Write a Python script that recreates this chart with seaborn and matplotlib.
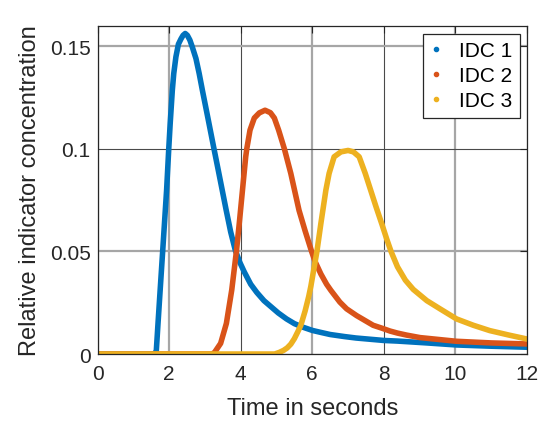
import numpy as np
import pandas as pd
import matplotlib
matplotlib.use("Agg")
import matplotlib.pyplot as plt
from matplotlib.lines import Line2D
import seaborn as sns

# Indicator dilution curves (time in s, relative concentration)
t_idc1 = [0.0, 1.58, 1.64, 1.69, 1.75, 1.82, 1.87, 1.93, 1.99, 2.03, 2.09, 2.13, 2.19, 2.26,
          2.33, 2.39, 2.45, 2.51, 2.58, 2.65, 2.75, 2.84, 2.93, 3.09, 3.24, 3.38, 3.59, 3.72,
          3.85, 3.98, 4.10, 4.28, 4.45, 4.65, 4.85, 5.05, 5.28, 5.50, 5.75, 6.00, 6.22, 6.50,
          6.90, 7.22, 8.00, 8.38, 9.20, 10.03, 11.0, 12.0]
c_idc1 = [0.0, 0.0, 0.001, 0.0149, 0.0312, 0.050, 0.0636, 0.0799, 0.100, 0.1123, 0.1286, 0.1367, 0.1448, 0.1510,
          0.1535, 0.1553, 0.1562, 0.1553, 0.1530, 0.1495, 0.1440, 0.1367, 0.1285, 0.1145, 0.1012, 0.089, 0.0705, 0.0595,
          0.0505, 0.0445, 0.040, 0.034, 0.030, 0.026, 0.023, 0.020, 0.0171, 0.0148, 0.0130, 0.0115, 0.0106, 0.0095,
          0.0085, 0.0078, 0.0066, 0.0063, 0.0054, 0.0044, 0.0038, 0.0033]

t_idc2 = [0.0, 3.20, 3.27, 3.44, 3.60, 3.75, 3.88, 3.96, 4.05, 4.14, 4.17, 4.26, 4.38, 4.52,
          4.68, 4.83, 4.94, 5.06, 5.22, 5.40, 5.63, 5.80, 5.98, 6.08, 6.24, 6.40, 6.52, 6.77,
          6.96, 7.24, 7.70, 7.96, 8.17, 8.38, 8.64, 9.01, 10.03, 11.0, 12.0]
c_idc2 = [0.0, 0.0, 0.0008, 0.0052, 0.0149, 0.0312, 0.050, 0.0636, 0.0799, 0.0961, 0.100, 0.1091, 0.1150, 0.1175,
          0.1188, 0.1176, 0.1150, 0.1091, 0.100, 0.088, 0.070, 0.060, 0.050, 0.045, 0.039, 0.034, 0.031, 0.0253,
          0.022, 0.0187, 0.0140, 0.0125, 0.0112, 0.0102, 0.0092, 0.0080, 0.0062, 0.0054, 0.0049]

t_idc3 = [0.0, 4.95, 5.08, 5.20, 5.30, 5.40, 5.50, 5.60, 5.68, 5.80, 5.90, 5.96, 6.05, 6.13,
          6.24, 6.38, 6.47, 6.61, 6.80, 7.00, 7.15, 7.31, 7.48, 7.78, 7.95, 8.08, 8.20,
          8.38, 8.60, 8.82, 9.20, 9.57, 10.03, 10.50, 10.96, 11.50, 12.0]
c_idc3 = [0.0, 0.0, 0.0008, 0.0018, 0.0030, 0.0048, 0.0075, 0.0110, 0.0140, 0.021, 0.028, 0.033, 0.042, 0.050,
          0.0636, 0.0799, 0.088, 0.0961, 0.0985, 0.0992, 0.0985, 0.0961, 0.088, 0.0718, 0.063, 0.056, 0.050,
          0.0425, 0.036, 0.0315, 0.026, 0.022, 0.0171, 0.014, 0.0114, 0.0092, 0.0073]

series_names = ["IDC 1", "IDC 2", "IDC 3"]
colors = ["#0072BD", "#D95319", "#EDB120"]

x_ticks = [0, 2, 4, 6, 8, 10, 12]
y_ticks = [0, 0.05, 0.1, 0.15]
y_tick_labels = ["0", "0.05", "0.1", "0.15"]

frames = []
for name, t, c in zip(series_names, [t_idc1, t_idc2, t_idc3], [c_idc1, c_idc2, c_idc3]):
    frames.append(pd.DataFrame({"time": t, "conc": c, "curve": name}))
df = pd.concat(frames, ignore_index=True)

sns.set_theme(style="white")
plt.rcParams["font.family"] = ["Liberation Sans", "DejaVu Sans"]

fig = plt.figure(figsize=(5.40, 4.27), dpi=100)
ax = fig.add_axes([0.1806, 0.1686, 0.7954, 0.7689])

sns.lineplot(data=df, x="time", y="conc", hue="curve", hue_order=series_names,
             palette=colors, linewidth=4.0, legend=False, sort=False, ax=ax,
             solid_capstyle="round", solid_joinstyle="round")

ax.set_xlim(0, 12)
ax.set_ylim(0, 0.16)
ax.set_xticks(x_ticks)
ax.set_xticklabels([str(v) for v in x_ticks])
ax.set_yticks(y_ticks)
ax.set_yticklabels(y_tick_labels)

text_color = "#262626"
ax.tick_params(axis="both", which="major", direction="in", length=5, width=0.8,
               colors=text_color, labelsize=15, top=True, right=True, pad=5)
ax.tick_params(axis="x", pad=7)

# grid: alternating light/dark lines
ax.grid(True)
ax.set_axisbelow(True)
for lines in (ax.get_xgridlines(), ax.get_ygridlines()):
    for i, gl in enumerate(lines):
        if i % 2 == 1:
            gl.set_color("#a6a6a6")
            gl.set_linewidth(1.6)
        else:
            gl.set_color("#4a4a4a")
            gl.set_linewidth(0.8)

for sp in ax.spines.values():
    sp.set_color(text_color)
    sp.set_linewidth(0.9)
    sp.set_visible(True)

ax.set_xlabel("Time in seconds", fontsize=17, color=text_color, labelpad=10)
ax.set_ylabel("Relative indicator concentration", fontsize=17, color=text_color, labelpad=6)

handles = [Line2D([0], [0], linestyle="none", marker=".", markersize=6, color=c) for c in colors]
leg = ax.legend(handles, series_names, loc="upper right", bbox_to_anchor=(0.983, 0.976),
                fontsize=15, frameon=True, fancybox=False, handlelength=0.6,
                handletextpad=0.8, borderpad=0.35, borderaxespad=0, labelspacing=0.3)
leg.get_frame().set_edgecolor(text_color)
leg.get_frame().set_linewidth(0.9)
leg.get_frame().set_alpha(1)
for txt in leg.get_texts():
    txt.set_color("black")

fig.savefig("out.png", dpi=100)
